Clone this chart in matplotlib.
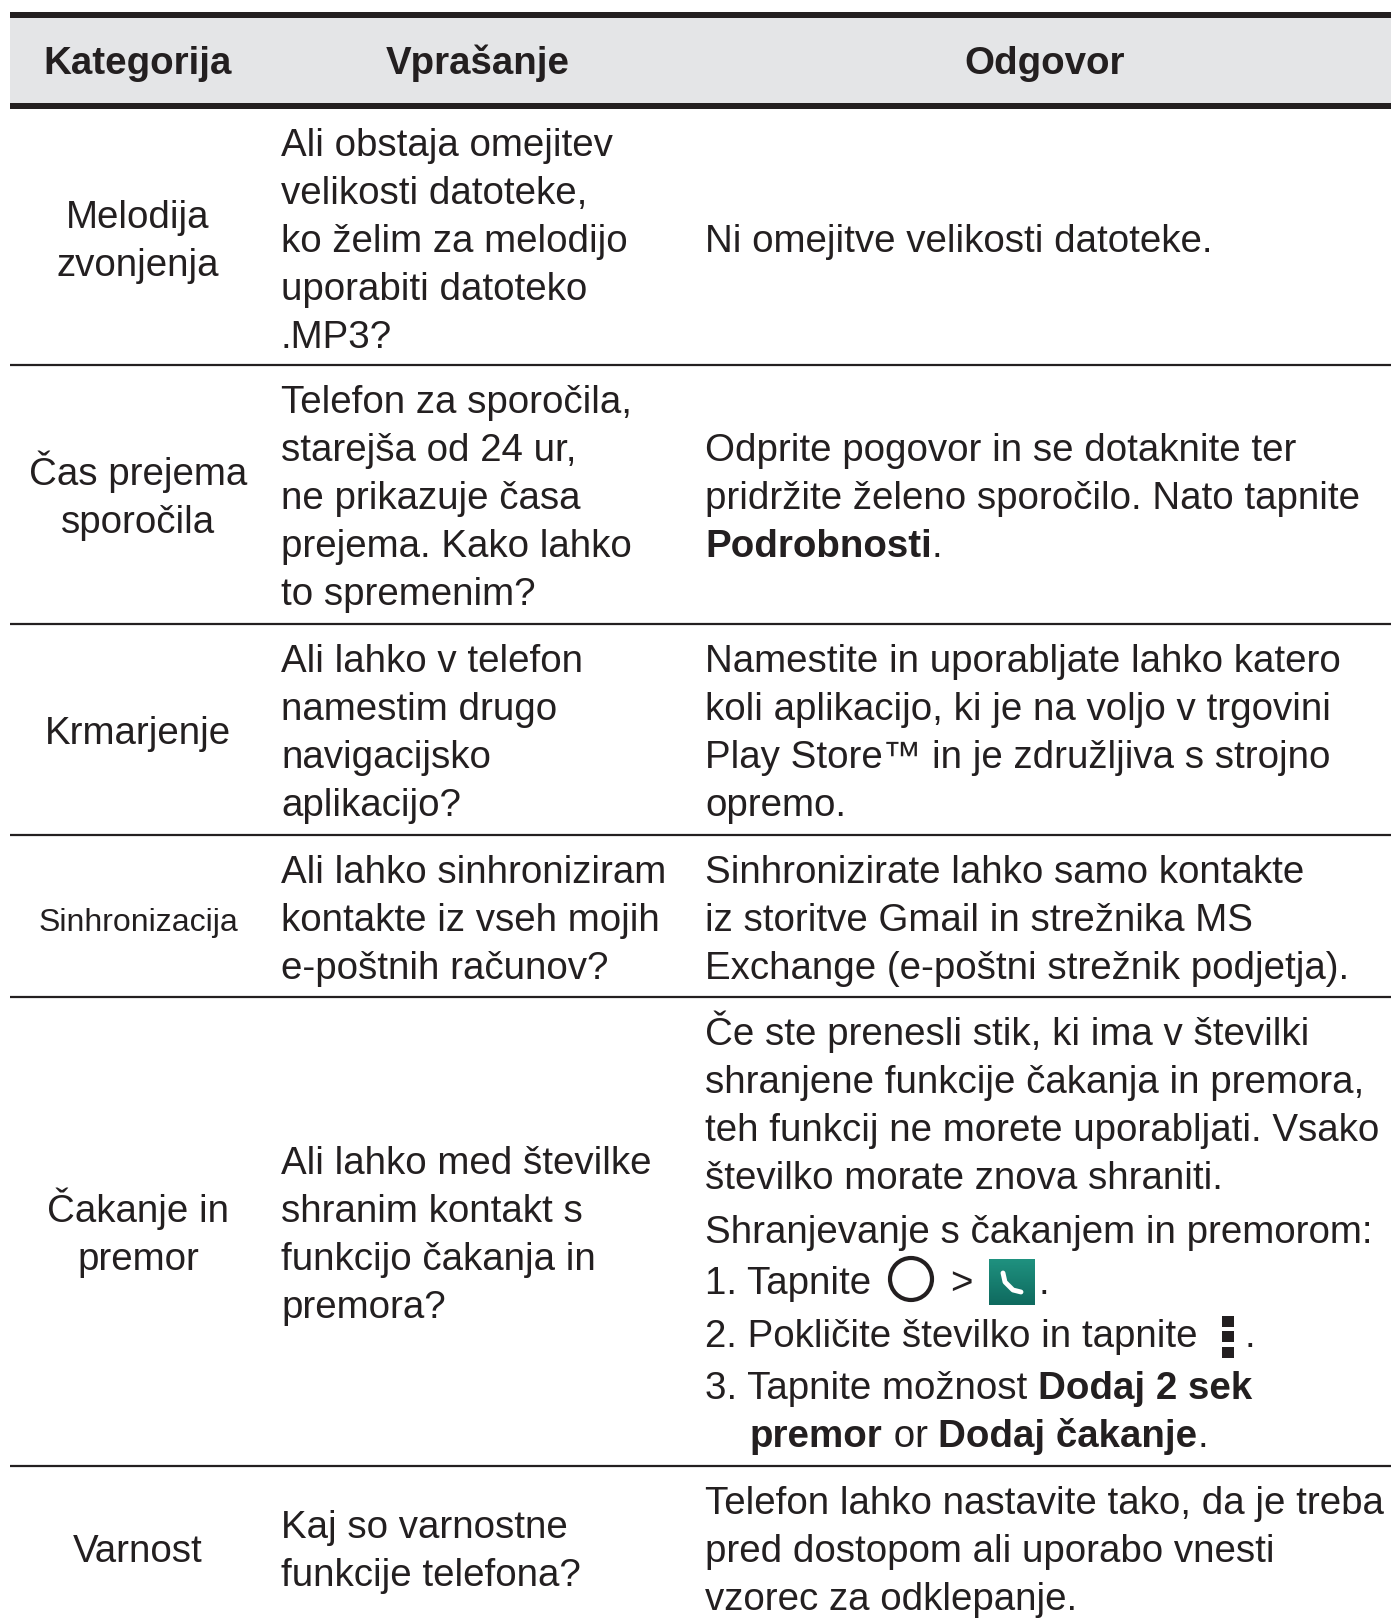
import numpy as np
import matplotlib
matplotlib.use('Agg')
import matplotlib.pyplot as plt
from matplotlib.patches import Circle, Rectangle

plt.rcParams['font.family'] = ['Liberation Sans', 'DejaVu Sans']

headers = ['Kategorija', 'Vprašanje', 'Odgovor']
categories = [['Melodija', 'zvonjenja'], ['Čas prejema', 'sporočila'], ['Krmarjenje'],
              ['Sinhronizacija'], ['Čakanje in', 'premor'], ['Varnost']]
questions = [
    ['Ali obstaja omejitev', 'velikosti datoteke,', 'ko želim za melodijo', 'uporabiti datoteko', '.MP3?'],
    ['Telefon za sporočila,', 'starejša od 24 ur,', 'ne prikazuje časa', 'prejema. Kako lahko', 'to spremenim?'],
    ['Ali lahko v telefon', 'namestim drugo', 'navigacijsko', 'aplikacijo?'],
    ['Ali lahko sinhroniziram', 'kontakte iz vseh mojih', 'e-poštnih računov?'],
    ['Ali lahko med številke', 'shranim kontakt s', 'funkcijo čakanja in', 'premora?'],
    ['Kaj so varnostne', 'funkcije telefona?'],
]
answers = [
    ['Ni omejitve velikosti datoteke.'],
    ['Odprite pogovor in se dotaknite ter', 'pridržite želeno sporočilo. Nato tapnite', '**Podrobnosti**.'],
    ['Namestite in uporabljate lahko katero', 'koli aplikacijo, ki je na voljo v trgovini',
     'Play Store™ in je združljiva s strojno', 'opremo.'],
    ['Sinhronizirate lahko samo kontakte', 'iz storitve Gmail in strežnika MS',
     'Exchange (e-poštni strežnik podjetja).'],
    ['Če ste prenesli stik, ki ima v številki', 'shranjene funkcije čakanja in premora,',
     'teh funkcij ne morete uporabljati. Vsako', 'številko morate znova shraniti.',
     'Shranjevanje s čakanjem in premorom:'],
    ['Telefon lahko nastavite tako, da je treba', 'pred dostopom ali uporabo vnesti',
     'vzorec za odklepanje.'],
]
steps = [['1. Tapnite'], ['2. Pokličite številko in tapnite'],
         ['3. Tapnite možnost ', '**Dodaj 2 sek**'],
         ['**premor**', ' or ', '**Dodaj čakanje**', '.']]

row_centers = [238, 495, 730, 917, 1232, 1548]
row_lines = [365, 624, 835, 997, 1466]
step_y = [1294, 1347, 1399, 1447]
answer5_y = [1045, 1093, 1141, 1189, 1243]

ink = '#231f20'
fs = 27.7
pitch = 48
base = 14

fig = plt.figure(figsize=(13.91, 16.22), dpi=100)
ax = fig.add_axes([0, 0, 1, 1])
ax.set_xlim(0, 1391)
ax.set_ylim(1622, 0)
ax.axis('off')
renderer = fig.canvas.get_renderer()


def runs(x, y, parts):
    # bold parts are marked with ** like in markdown
    for p in parts:
        bold = p.startswith('**')
        t = ax.text(x, y, p.strip('*'), fontsize=fs, color=ink, va='baseline',
                    fontweight='bold' if bold else 'normal')
        x += t.get_window_extent(renderer).width


def block(x, center, lines, ha='left', size=fs):
    y0 = center - (len(lines) - 1) * pitch / 2 + base
    for i, line in enumerate(lines):
        y = y0 + i * pitch
        if '**' in line:
            runs(x, y, line.split('.')[:1] + ['.'])
        else:
            ax.text(x, y, line, fontsize=size, color=ink, ha=ha, va='baseline')


# header band
ax.add_patch(Rectangle((10, 17), 1381, 86, color='#e4e5e7', lw=0))
ax.add_patch(Rectangle((10, 12), 1381, 5.5, color=ink, lw=0))
ax.add_patch(Rectangle((10, 103), 1381, 5.5, color=ink, lw=0))
for h, x in zip(headers, [138, 478, 1045]):
    ax.text(x, 60 + 14, h, fontsize=fs, color=ink, ha='center', va='baseline', fontweight='bold')

for y in row_lines:
    ax.plot([10, 1391], [y, y], color=ink, lw=1.6, solid_capstyle='butt')

for i, c in enumerate(row_centers):
    # this one is squeezed in the original
    size = 23 if categories[i][0] == 'Sinhronizacija' else fs
    block(138, c, categories[i], ha='center', size=size)
    block(281, c, questions[i])
    if i != 4:
        block(705, c, answers[i])

for line, y in zip(answers[4], answer5_y):
    ax.text(705, y, line, fontsize=fs, color=ink, va='baseline')

runs(705, step_y[0], steps[0])
runs(705, step_y[1], steps[1])
runs(705, step_y[2], steps[2])
runs(750, step_y[3], steps[3])

# icons in step 1 and 2
ax.add_patch(Circle((911, 1279), 21, fill=False, ec=ink, lw=3))
ax.text(950, step_y[0], '>', fontsize=fs, color=ink, va='baseline')
grad = np.linspace(0, 1, 32).reshape(-1, 1)
ax.imshow(grad, extent=(989, 1035, 1305, 1259), cmap=matplotlib.colors.LinearSegmentedColormap.from_list('t', ['#0f6a5f', '#1f917f']),
          origin='lower', aspect='auto', zorder=2)
ax.set_xlim(0, 1391)
ax.set_ylim(1622, 0)
ax.plot([1003, 1005, 1013, 1021], [1273, 1282, 1290, 1292], color='white', lw=3.5, zorder=3, solid_capstyle='round')
ax.text(1039, step_y[0], '.', fontsize=fs, color=ink, va='baseline')
for y in [1316, 1331, 1347]:
    ax.add_patch(Rectangle((1222, y), 12, 11, color=ink, lw=0))
ax.text(1245, step_y[1], '.', fontsize=fs, color=ink, va='baseline')

fig.savefig('out.png', dpi=100)
